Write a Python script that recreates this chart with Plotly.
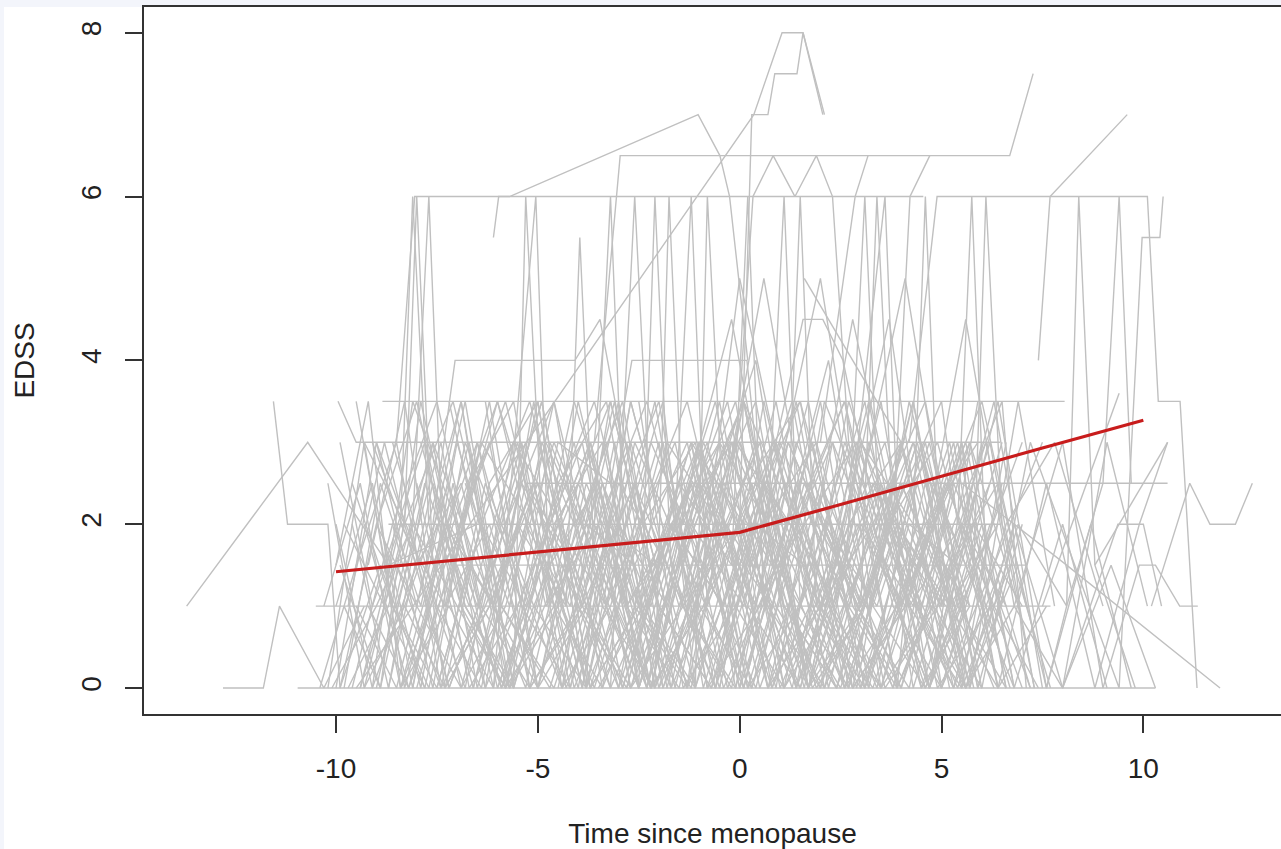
import plotly.graph_objects as go

# ---------------- data ----------------
x_tick_vals = [-10, -5, 0, 5, 10]
x_tick_text = ["-10", "-5", "0", "5", "10"]
y_tick_vals = [0, 2, 4, 6, 8]
y_tick_text = ["0", "2", "4", "6", "8"]

# fitted mean trajectory (red)
mean_time = [-10, -7.5, -5, -2.5, 0, 2.5, 5, 7.5, 10]
mean_edss = [1.42, 1.54, 1.66, 1.78, 1.90, 2.24, 2.59, 2.93, 3.27]

# subjects that stay on one EDSS level for a long time
level_subjects = [
    [(-10.95, 0), (-7.5, 0), (-4.0, 0), (-0.5, 0), (3.0, 0), (6.5, 0), (10.3, 0)],
    [(-10.5, 1), (-7.0, 1), (-3.5, 1), (0.0, 1), (3.5, 1), (7.7, 1)],
    [(-7.05, 1.5), (-3.5, 1.5), (0.0, 1.5), (3.5, 1.5), (7.1, 1.5)],
    [(-8.7, 2), (-5.0, 2), (-1.0, 2), (3.0, 2), (6.45, 2)],
    [(-5.3, 2.5), (-2.0, 2.5), (2.0, 2.5), (6.0, 2.5), (10.6, 2.5)],
    [(-9.95, 3.5), (-9.5, 3.0), (-5.0, 3.0), (0.0, 3.0), (4.0, 3.0), (6.45, 3.0)],
    [(-8.85, 3.5), (-5.0, 3.5), (0.0, 3.5), (4.0, 3.5), (8.05, 3.5)],
]

# subjects with high EDSS values
high_subjects = [
    [(-8.5, 3.0), (-8.05, 6.0), (-4.0, 6.0), (0.0, 6.0), (4.55, 6.0)],
    [(4.2, 3.0), (4.89, 6.0), (7.5, 6.0), (10.1, 6.0), (10.37, 3.5), (10.91, 3.5), (11.33, 0.0)],
    [(-3.6, 3.0), (-2.96, 6.5), (2.0, 6.5), (6.69, 6.5), (7.27, 7.5)],
    [(-9.5, 0.0), (0.35, 7.0), (1.05, 8.0), (1.57, 8.0), (2.06, 7.0)],
    [(0.0, 2.0), (0.3, 7.0), (0.7, 7.0), (0.87, 7.5), (1.42, 7.5), (1.57, 8.0), (2.1, 7.0)],
    [(-6.1, 5.5), (-5.97, 6.0), (-5.7, 6.0), (-1.03, 7.0), (-0.49, 6.5), (-0.25, 6.0), (0.2, 4.0)],
    [(7.4, 4.0), (7.69, 6.0), (9.6, 7.0)],
    [(0.0, 3.5), (0.33, 6.0), (0.83, 6.5), (1.37, 6.0), (1.9, 6.5), (2.3, 6.0), (2.7, 3.0)],
    [(1.6, 5.0), (2.8, 4.0), (4.0, 3.0)],
    [(-3.2, 2.5), (-2.67, 4.0), (0.18, 4.0), (0.7, 1.5)],
    [(0.9, 3.0), (1.57, 4.5), (2.06, 4.5), (2.56, 4.0), (3.4, 2.0)],
    [(-7.6, 2.0), (-7.05, 4.0), (-4.08, 4.0), (-3.46, 4.5), (-2.9, 3.0)],
    [(2.0, 3.0), (2.86, 6.0), (3.18, 6.5)],
    [(3.8, 2.0), (4.22, 6.0), (4.71, 6.5)],
]

# subjects at the left and right edges of the time range
edge_subjects = [
    [(-13.7, 1.0), (-10.7, 3.0), (-8.7, 1.5), (-6.5, 2.0)],
    [(-11.55, 3.5), (-11.2, 2.0), (-10.2, 2.0), (-9.9, 0.0), (-8.9, 1.5), (-7.8, 0.0)],
    [(-12.8, 0.0), (-11.8, 0.0), (-11.4, 1.0), (-10.3, 0.0), (-9.3, 1.0)],
    [(5.5, 2.5), (8.1, 1.5), (11.9, 0.0)],
    [(8.0, 0.0), (9.37, 2.0), (10.0, 2.0), (10.45, 1.0)],
    [(9.0, 0.0), (9.9, 1.5), (10.3, 1.5), (10.9, 1.0), (11.35, 1.0)],
    [(10.2, 1.0), (11.15, 2.5), (11.65, 2.0), (12.28, 2.0), (12.7, 2.5)],
    [(7.5, 1.0), (9.4, 3.6)],
    [(8.8, 1.5), (10.6, 3.0)],
]

# the dense bundle of fluctuating trajectories
dense_subjects = [
    [(-10.0, 1.5), (-9.2, 3.5), (-8.4, 0), (-7.3, 2), (-6.1, 1), (-4.8, 3), (-3.5, 1.5), (-2.2, 0), (-1.0, 2.5), (0.3, 1.5), (1.5, 0), (2.8, 2.5), (4.0, 1)],
    [(-9.8, 0), (-8.9, 2.5), (-7.9, 1), (-6.8, 3.5), (-5.6, 0), (-5.3, 6), (-4.9, 2), (-3.9, 1), (-3.1, 3), (-1.9, 0), (-0.6, 2), (0.8, 1), (2.0, 3.5), (3.2, 0)],
    [(-9.6, 2), (-8.7, 0), (-7.6, 3), (-6.5, 1.5), (-5.3, 0), (-4.0, 3.5), (-2.8, 1), (-1.5, 2), (-0.2, 4.5), (1.1, 1), (2.4, 0), (3.7, 2), (5.0, 1)],
    [(-9.4, 0), (-8.5, 1.5), (-7.4, 0), (-6.3, 2.5), (-5.1, 1), (-3.8, 0), (-2.6, 3), (-1.3, 1.5), (0.1, 0), (1.4, 2.5), (2.7, 1), (4.0, 3), (5.2, 0)],
    [(-9.9, 3), (-9.1, 1), (-8.4, 2), (-8.1, 6), (-7.7, 2), (-6.6, 0), (-5.4, 2.5), (-4.2, 1.5), (-3.0, 0), (-1.7, 2), (-0.4, 1), (0.9, 3), (2.1, 0), (3.4, 1.5)],
    [(-9.7, 1), (-8.8, 3), (-8.3, 2), (-8.0, 6), (-7.6, 1.5), (-6.5, 3), (-5.2, 0), (-3.9, 1), (-2.6, 2.5), (-1.3, 0), (0.0, 1.5), (1.3, 3.5), (2.6, 0), (3.9, 2), (5.1, 1)],
    [(-10.2, 2.5), (-9.3, 0), (-8.3, 2), (-7.1, 3.5), (-5.9, 1), (-4.6, 0), (-3.3, 2), (-2.1, 1.5), (-0.8, 3), (0.5, 0), (1.9, 2), (3.1, 1), (4.4, 3)],
    [(-9.5, 3.5), (-8.6, 1), (-7.7, 0), (-6.4, 3), (-5.2, 2), (-4.0, 0), (-2.7, 3.5), (-1.4, 1), (0.0, 2), (1.3, 0), (2.6, 3), (3.9, 1.5), (5.3, 0)],
    [(-9.0, 0), (-8.1, 2), (-7.0, 1), (-5.8, 0), (-4.5, 3), (-3.2, 2.5), (-2.0, 0), (-0.7, 1.5), (0.6, 5), (2.0, 1), (3.3, 2), (4.6, 0), (5.8, 1.5)],
    [(-8.8, 1.5), (-7.8, 3), (-6.7, 0), (-5.5, 1), (-4.3, 2.5), (-3.0, 0), (-1.8, 3), (-0.5, 2), (0.8, 0), (2.2, 1.5), (3.5, 0), (4.8, 2.5), (6.0, 1)],
    [(-10.1, 0), (-9.0, 1), (-8.1, 2), (-7.7, 6), (-7.3, 1), (-6.2, 2), (-5.0, 0), (-3.7, 3), (-2.5, 1), (-1.2, 0), (0.1, 3.5), (1.4, 2), (2.8, 0), (4.1, 1), (5.5, 3), (6.6, 0)],
    [(-9.3, 2), (-8.2, 0), (-7.1, 1.5), (-6.0, 3.5), (-4.8, 1), (-3.5, 2), (-2.2, 0), (-0.9, 1), (0.4, 2.5), (1.7, 0), (3.0, 3), (4.3, 1.5), (5.6, 0), (6.8, 2)],
    [(-10.3, 1), (-9.4, 2.5), (-8.4, 0), (-7.2, 1), (-6.1, 0), (-5.05, 6), (-4.7, 1), (-3.6, 2.5), (-2.3, 0), (-1.0, 3), (0.3, 1), (1.6, 2), (2.9, 0), (4.2, 3.5), (5.5, 1)],
    [(-9.1, 3), (-8.0, 1.5), (-6.9, 3.5), (-5.7, 0), (-4.4, 1.5), (-3.2, 0), (-2.6, 6), (-2.2, 2), (-1.1, 0), (0.2, 2), (1.5, 3.5), (2.8, 1), (4.0, 0), (5.3, 2.5), (6.5, 1)],
    [(-8.7, 0), (-7.6, 2.5), (-6.5, 1), (-5.3, 3), (-4.1, 0), (-2.9, 1.5), (-1.6, 3), (-0.3, 0), (1.0, 1.5), (2.3, 3), (3.6, 0), (4.9, 1), (6.2, 2.5)],
    [(-9.5, 1), (-8.5, 0), (-7.5, 2), (-6.3, 0), (-5.1, 3.5), (-4.3, 1), (-3.96, 5.5), (-3.6, 1.5), (-2.5, 0), (-1.2, 2.5), (0.0, 0), (1.2, 3), (2.5, 1.5), (3.8, 0), (5.0, 2)],
    [(-10.0, 0), (-9.0, 3), (-8.0, 1), (-6.9, 0), (-5.8, 2), (-4.6, 3.5), (-3.4, 1), (-2.1, 0), (-0.9, 2), (0.4, 4), (1.7, 0), (3.0, 1.5), (4.3, 3), (5.6, 0), (6.9, 1.5)],
    [(-9.2, 1.5), (-8.3, 3.5), (-7.3, 0), (-6.2, 1), (-5.0, 2.5), (-3.8, 0), (-3.2, 6), (-2.8, 1), (-1.7, 2), (-0.5, 0), (0.8, 3), (2.1, 1), (3.4, 2.5), (4.7, 0), (6.0, 3)],
    [(-8.9, 2), (-7.9, 0), (-6.8, 3), (-5.6, 1.5), (-4.4, 0), (-3.2, 2), (-2.0, 3.5), (-0.8, 0), (0.5, 1), (1.8, 3), (3.1, 0), (4.4, 2), (5.7, 1)],
    [(-9.7, 0), (-8.7, 1), (-7.6, 3), (-6.5, 0), (-5.3, 2), (-4.2, 1), (-3.0, 3.5), (-1.8, 0), (-0.5, 2.5), (0.7, 1), (2.0, 0), (3.3, 2), (4.6, 3.5), (5.9, 0)],
    [(-10.0, 2), (-9.1, 0), (-8.0, 1.5), (-6.9, 2.5), (-5.7, 0), (-4.5, 1), (-3.3, 3), (-2.5, 0), (-2.1, 6), (-1.7, 1.5), (-0.6, 0), (0.7, 2.5), (2.0, 1), (3.3, 0), (4.6, 2), (5.9, 3)],
    [(-9.4, 0), (-8.4, 2), (-7.3, 1), (-6.2, 3.5), (-5.0, 0), (-3.8, 2), (-2.6, 1.5), (-2.1, 0), (-1.75, 6), (-1.4, 2), (-0.3, 3.5), (1.0, 0), (2.3, 1.5), (3.6, 3), (4.9, 0), (6.2, 1)],
    [(-8.6, 3), (-7.5, 1), (-6.4, 0), (-5.3, 2.5), (-4.1, 1.5), (-2.9, 0), (-1.6, 2), (-1.2, 6), (-0.8, 1), (0.3, 2.5), (1.6, 0), (2.9, 3), (4.2, 1), (5.5, 2), (6.7, 0)],
    [(-9.8, 1), (-8.9, 0), (-7.8, 2.5), (-6.7, 1), (-5.5, 3), (-4.3, 0), (-3.1, 1.5), (-1.9, 3.5), (-1.1, 0), (-0.8, 6), (-0.4, 2), (0.7, 0), (2.0, 2.5), (3.3, 1), (4.6, 3), (5.9, 0), (7.0, 2)],
    [(-9.1, 0), (-8.1, 3.5), (-7.0, 2), (-5.9, 0), (-4.7, 1.5), (-3.5, 2.5), (-2.3, 0), (-1.0, 3), (0.2, 1), (1.5, 0), (2.8, 2), (4.1, 5), (5.4, 1), (6.6, 0)],
    [(-9.6, 2.5), (-8.6, 1), (-7.5, 0), (-6.4, 2), (-5.2, 3.5), (-4.0, 1), (-2.8, 0), (-1.5, 2.5), (-0.2, 1.5), (0.2, 6), (0.6, 1), (1.8, 3), (3.1, 0), (4.4, 1.5), (5.7, 3), (6.9, 1)],
    [(-10.4, 0), (-9.5, 1.5), (-8.5, 3), (-7.4, 0), (-6.3, 1), (-5.1, 2.5), (-3.9, 0), (-2.7, 3.5), (-1.4, 1), (-0.1, 0), (0.7, 2), (1.1, 6), (1.5, 1), (2.7, 0), (4.0, 2.5), (5.3, 1), (6.5, 3)],
    [(-8.5, 1), (-7.4, 3), (-6.3, 0), (-5.1, 1.5), (-3.9, 3), (-2.7, 0), (-1.4, 1), (-0.1, 3), (1.2, 2), (1.5, 6), (1.9, 1), (3.1, 0), (4.4, 2.5), (5.7, 0), (6.9, 3.5), (7.8, 1)],
    [(-9.0, 3), (-7.9, 1.5), (-6.8, 0), (-5.6, 3), (-4.4, 2), (-3.2, 0), (-1.9, 1.5), (-0.6, 3.5), (0.7, 0), (2.0, 1), (2.7, 2), (3.1, 6), (3.5, 1.5), (4.7, 0), (6.0, 2), (7.2, 0)],
    [(-9.9, 1.5), (-8.9, 0), (-7.9, 3.5), (-6.8, 1), (-5.6, 0), (-4.4, 2), (-3.2, 3.5), (-2.0, 1), (-0.7, 0), (0.6, 2), (1.9, 3), (3.0, 1), (3.4, 6), (3.8, 2), (5.0, 0), (6.3, 1.5), (7.5, 3)],
    [(-9.3, 0), (-8.3, 1), (-7.2, 2.5), (-6.1, 0), (-4.9, 3), (-3.7, 1.5), (-2.5, 0), (-1.2, 2), (0.1, 3.5), (1.4, 0), (2.6, 1.5), (3.6, 6), (4.0, 1), (5.2, 2.5), (6.4, 0), (7.6, 1)],
    [(-8.2, 2), (-7.2, 0), (-6.1, 1.5), (-4.9, 3.5), (-3.7, 0), (-2.5, 1), (-1.2, 3), (0.1, 0), (1.4, 2.5), (2.7, 1), (3.9, 0), (4.3, 2), (4.6, 6), (5.0, 1), (6.2, 3), (7.3, 0)],
    [(-9.6, 0), (-8.6, 2), (-7.5, 3.5), (-6.4, 1), (-5.2, 0), (-4.0, 2.5), (-2.8, 1), (-1.5, 0), (-0.2, 3), (1.1, 1.5), (2.4, 0), (3.7, 2), (5.0, 3.5), (5.4, 2), (5.75, 6), (6.1, 1.5), (7.2, 0)],
    [(-10.0, 1), (-9.1, 2.5), (-8.1, 0), (-7.0, 3), (-5.9, 1), (-4.7, 0), (-3.5, 2), (-2.3, 3.5), (-1.0, 1), (0.3, 0), (1.6, 2.5), (2.9, 1), (4.2, 0), (5.5, 3), (5.8, 1.5), (6.1, 6), (6.5, 2), (7.7, 0)],
    [(-8.4, 0), (-7.3, 1.5), (-6.2, 3), (-5.0, 0), (-3.8, 1), (-2.6, 2.5), (-1.3, 0), (0.0, 3), (1.3, 1.5), (2.6, 0), (3.9, 2), (5.2, 1), (6.4, 3.5), (7.6, 0), (8.1, 1), (8.4, 6), (8.8, 1.5), (9.8, 0)],
    [(-7.9, 3), (-6.8, 1), (-5.7, 0), (-4.5, 2.5), (-3.3, 3.5), (-2.1, 0), (-0.8, 1.5), (0.5, 3), (1.8, 0), (3.1, 1), (4.4, 3), (5.7, 0), (6.9, 2), (8.1, 1), (9.0, 2.5), (9.4, 6), (9.7, 2.5)],
    [(-7.5, 0), (-6.4, 2), (-5.3, 1), (-4.1, 3), (-2.9, 0), (-1.7, 2), (-0.4, 1), (0.9, 3.5), (2.2, 0), (3.5, 2.5), (4.8, 1), (6.0, 0), (7.2, 3), (8.3, 1.5), (9.4, 0), (9.97, 5.5), (10.41, 5.5), (10.49, 6)],
    [(-9.2, 1), (-8.2, 0), (-7.1, 2), (-6.0, 3.5), (-4.8, 1.5), (-3.6, 0), (-2.4, 2), (-1.1, 3), (0.2, 0), (1.5, 1), (2.8, 4.5), (4.1, 1.5), (5.4, 0), (6.6, 2), (7.8, 3), (9.0, 1)],
    [(-8.0, 2.5), (-6.9, 0), (-5.8, 1), (-4.6, 3), (-3.4, 1.5), (-2.2, 0), (-0.9, 2.5), (0.4, 1), (1.7, 3.5), (3.0, 0), (4.3, 1.5), (5.6, 3), (6.8, 0), (8.0, 2), (9.1, 0)],
    [(-10.2, 0), (-9.3, 3), (-8.3, 2), (-7.2, 0), (-6.1, 1.5), (-4.9, 3.5), (-3.7, 0), (-2.5, 1), (-1.2, 2.5), (0.1, 0), (1.4, 3), (2.7, 1.5), (4.0, 0), (5.3, 2), (6.5, 3.5), (7.1, 0)],
    [(-6.5, 1), (-5.4, 3), (-4.2, 0), (-3.0, 2), (-1.8, 1), (-0.5, 3.5), (0.8, 0), (2.1, 2), (3.4, 1), (4.7, 3), (6.0, 0)],
    [(-6.0, 0), (-4.9, 1.5), (-3.7, 3), (-2.5, 0), (-1.2, 2), (0.1, 1), (1.4, 3.5), (2.7, 0), (4.0, 2.5), (5.2, 1), (6.4, 0)],
    [(-5.5, 2), (-4.4, 0), (-3.2, 3.5), (-2.0, 1), (-0.7, 0), (0.6, 2.5), (1.9, 1.5), (3.2, 0), (4.5, 3), (5.7, 1)],
    [(-5.0, 3), (-3.9, 1), (-2.7, 0), (-1.5, 2), (-0.2, 3), (1.1, 0), (2.4, 1.5), (3.7, 4.5), (5.0, 0), (6.2, 2)],
    [(-4.5, 0), (-3.4, 2.5), (-2.2, 1), (-1.0, 3), (0.3, 0), (1.6, 2), (2.9, 3), (4.2, 1), (5.5, 0), (6.7, 1.5)],
    [(-7.0, 1.5), (-5.9, 0), (-4.8, 2), (-3.6, 3.5), (-2.4, 1), (-1.1, 0), (0.2, 2.5), (1.5, 3.5), (2.8, 0), (4.1, 1), (5.4, 3), (6.6, 0)],
    [(-4.0, 2), (-2.9, 3.5), (-1.7, 0), (-0.4, 1.5), (0.9, 3), (2.2, 1), (3.5, 0), (4.8, 2), (6.0, 3.5), (7.1, 1)],
    [(-3.5, 0), (-2.4, 1), (-1.2, 3), (0.1, 2), (1.4, 0), (2.7, 3.5), (4.0, 1.5), (5.3, 0), (6.5, 2.5)],
    [(-3.0, 1), (-1.9, 3), (-0.6, 0), (0.7, 2), (2.0, 5), (3.3, 1), (4.6, 0), (5.9, 1.5), (7.0, 3)],
    [(-2.5, 3.5), (-1.4, 0), (-0.1, 1), (1.2, 3), (2.5, 1.5), (3.8, 0), (5.1, 2.5), (6.3, 1), (7.4, 0)],
    [(-2.0, 0), (-0.9, 2), (0.4, 3.5), (1.7, 0), (3.0, 1), (4.3, 3), (5.6, 1.5), (6.8, 0)],
    [(-1.5, 2.5), (-0.4, 0), (0.9, 1.5), (2.2, 4), (3.5, 0), (4.8, 1), (6.1, 3), (7.3, 0)],
    [(-1.0, 1), (0.1, 3.5), (1.4, 0), (2.7, 2), (4.0, 3), (5.3, 0), (6.5, 1.5)],
    [(-0.5, 0), (0.6, 2.5), (1.9, 1), (3.2, 3.5), (4.5, 0), (5.8, 2), (7.0, 1)],
    [(0.0, 3), (1.1, 1), (2.4, 0), (3.7, 2.5), (5.0, 1), (6.3, 3.5), (7.5, 0)],
    [(-8.0, 0), (-6.9, 2), (-5.8, 3.5), (-4.6, 1), (-3.4, 0), (-2.2, 3), (-0.9, 1.5), (0.4, 0), (1.7, 2.5), (3.0, 1), (4.3, 3.5), (5.6, 0), (6.8, 2), (8.0, 0), (9.2, 1.5), (10.3, 0)],
    [(-7.2, 3.5), (-6.1, 1), (-5.0, 0), (-3.8, 2.5), (-2.6, 1), (-1.3, 0), (0.0, 5), (1.3, 2), (2.6, 0), (3.9, 1), (5.2, 3), (6.4, 0), (7.6, 2.5), (8.8, 0), (9.9, 2), (10.6, 3)],
    [(-9.0, 2), (-8.0, 3.5), (-6.9, 1), (-5.8, 0), (-4.6, 2), (-3.4, 3), (-2.2, 0), (-0.9, 1), (0.4, 3), (1.7, 0), (3.0, 2), (4.3, 1), (5.6, 4.5), (6.8, 1), (8.0, 0), (9.1, 3), (10.1, 1)],
    [(-8.3, 1), (-7.3, 0), (-6.2, 2.5), (-5.0, 3.5), (-3.8, 0), (-2.6, 1.5), (-1.3, 3), (0.0, 0), (1.3, 2), (2.6, 3.5), (3.9, 0), (5.2, 1.5), (6.4, 2.5), (7.6, 0), (8.7, 2), (9.7, 0)],
    [(-9.9, 0), (-9.0, 2), (-8.0, 1), (-6.9, 3.5), (-5.8, 0), (-4.6, 1), (-3.4, 2.5), (-2.2, 0), (-0.9, 3), (0.4, 1.5), (1.7, 0), (3.0, 3), (4.3, 2), (5.6, 0), (6.8, 1), (8.0, 3), (9.0, 0)],
    [(-7.8, 1), (-6.7, 3), (-5.6, 0), (-4.5, 2), (-3.3, 1), (-2.1, 3.5), (-0.9, 0), (0.3, 2), (1.5, 1), (2.7, 3), (3.9, 0), (5.1, 1.5), (6.3, 0)],
    [(-6.8, 2.5), (-5.7, 1), (-4.6, 3.5), (-3.4, 0), (-2.2, 1.5), (-1.0, 3), (0.2, 0), (1.4, 2), (2.6, 3.5), (3.8, 1), (5.0, 0), (6.1, 2)],
    [(-9.3, 3), (-8.3, 0), (-7.2, 2), (-6.1, 1), (-5.0, 3.5), (-3.8, 0), (-2.6, 2.5), (-1.4, 1), (-0.2, 0), (1.0, 3), (2.2, 1.5), (3.4, 0), (4.6, 2.5), (5.8, 0)],
    [(-5.8, 0), (-4.7, 3), (-3.5, 1.5), (-2.3, 0), (-1.1, 2), (0.1, 3.5), (1.3, 1), (2.5, 0), (3.7, 2), (4.9, 3), (6.0, 1)],
    [(-4.8, 1.5), (-3.7, 0), (-2.5, 2), (-1.3, 3.5), (-0.1, 1), (1.1, 0), (2.3, 3), (3.5, 1.5), (4.7, 0), (5.9, 2.5)],
    [(-8.6, 2), (-7.6, 0), (-6.5, 3), (-5.4, 1), (-4.2, 0), (-3.0, 2.5), (-1.8, 1.5), (-0.6, 0), (0.6, 3.5), (1.8, 1), (3.0, 0), (4.2, 2), (5.4, 1.5)],
    [(-7.3, 0), (-6.2, 1), (-5.1, 2.5), (-3.9, 0), (-2.7, 3), (-1.5, 1), (-0.3, 2), (0.9, 0), (2.1, 3.5), (3.3, 2), (4.5, 0), (5.7, 1)],
    [(-3.8, 3), (-2.7, 0), (-1.5, 1.5), (-0.3, 3), (0.9, 1), (2.1, 0), (3.3, 2.5), (4.5, 1), (5.7, 3), (6.8, 0)],
    [(-6.3, 3.5), (-5.2, 0), (-4.0, 1), (-2.8, 3), (-1.6, 0), (-0.4, 2.5), (0.8, 1.5), (2.0, 0), (3.2, 3), (4.4, 1), (5.6, 0)],
    [(-9.8, 2), (-8.8, 1), (-7.8, 0), (-6.7, 2.5), (-5.6, 3.5), (-4.4, 0), (-3.2, 1), (-2.0, 3), (-0.8, 0), (0.4, 2), (1.6, 1.5), (2.8, 0), (4.0, 3), (5.2, 1), (6.4, 2)],
    [(-2.8, 0), (-1.7, 2), (-0.5, 3), (0.7, 0), (1.9, 1.5), (3.1, 3.5), (4.3, 0), (5.5, 2), (6.6, 1)],
    [(-5.2, 1), (-4.1, 3.5), (-2.9, 1.5), (-1.7, 0), (-0.5, 3), (0.7, 2), (1.9, 0), (3.1, 1), (4.3, 3.5), (5.5, 0), (6.6, 3)],
    [(-8.1, 0), (-7.1, 2.5), (-6.0, 0), (-4.9, 1.5), (-3.7, 3), (-2.5, 0), (-1.3, 2), (-0.1, 3.5), (1.1, 0), (2.3, 1), (3.5, 2.5), (4.7, 0), (5.9, 3.5)],
    [(-1.2, 3), (-0.1, 0), (1.1, 2.5), (2.3, 1), (3.5, 3.5), (4.7, 0), (5.9, 1.5), (7.0, 0)],
    [(-6.6, 0), (-5.5, 2), (-4.3, 1), (-3.1, 3.5), (-1.9, 0), (-0.7, 1.5), (0.5, 3), (1.7, 0), (2.9, 2), (4.1, 1), (5.3, 3), (6.4, 0)],
]

# ---------------- figure ----------------
def stack(groups):
    xs, ys = [], []
    for group in groups:
        for subj in group:
            for t, e in subj:
                xs.append(t)
                ys.append(e)
            xs.append(None)
            ys.append(None)
    return xs, ys

gx, gy = stack([dense_subjects, level_subjects, high_subjects, edge_subjects])

fig = go.Figure()
fig.add_trace(go.Scatter(x=gx, y=gy, mode="lines",
                         line=dict(color="#c0c0c0", width=1.4),
                         hoverinfo="skip", showlegend=False))
fig.add_trace(go.Scatter(x=mean_time, y=mean_edss, mode="lines",
                         line=dict(color="#c81c1c", width=3.2),
                         showlegend=False))

font_family = "Liberation Sans, Arial, sans-serif"
axis_common = dict(
    showgrid=False, zeroline=False,
    showline=True, linecolor="#333333", linewidth=2,
    ticks="outside", ticklen=17, tickwidth=2, tickcolor="#333333",
    tickfont=dict(family=font_family, size=28, color="#222222"),
)

fig.update_layout(
    width=1281, height=849,
    margin=dict(l=144, r=0, t=7, b=135),
    paper_bgcolor="#f3f5fb",
    plot_bgcolor="white",
    font=dict(family=font_family, color="#222222"),
    xaxis=dict(range=[-14.756, 13.41], tickvals=x_tick_vals, ticktext=x_tick_text,
               mirror=True, ticklabelstandoff=11,
               title=dict(text="Time since menopause",
                          font=dict(family=font_family, size=28, color="#222222"),
                          standoff=42),
               **axis_common),
    yaxis=dict(range=[-0.317, 8.314], tickvals=y_tick_vals, ticktext=y_tick_text,
               tickangle=-90, ticklabelstandoff=13,
               title=dict(text="EDSS",
                          font=dict(family=font_family, size=28, color="#222222"),
                          standoff=33),
               **axis_common),
    shapes=[dict(type="rect", xref="paper", yref="paper",
                 x0=-140 / 1137, x1=1.01, y0=-0.2, y1=1.0, layer="below",
                 fillcolor="white", line=dict(width=0))],
)

fig.write_html("out.html",
               config={"displayModeBar": False},
               post_script="document.body.style.margin='0px';"
                           "document.body.style.overflow='hidden';")
